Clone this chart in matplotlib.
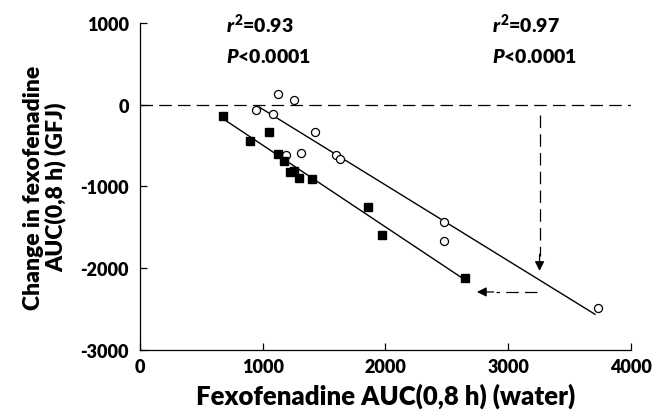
import matplotlib
matplotlib.use("Agg")
import matplotlib.pyplot as plt
import numpy as np

plt.rcParams['font.family'] = ['Lato', 'DejaVu Sans']
plt.rcParams['font.weight'] = 800
plt.rcParams['axes.unicode_minus'] = False
plt.rcParams['mathtext.fontset'] = 'custom'
plt.rcParams['mathtext.rm'] = 'Lato:weight=800'
plt.rcParams['mathtext.it'] = 'Lato:italic:weight=800'
plt.rcParams['mathtext.bf'] = 'Lato:weight=800'

# open circles
circ_x = [945, 1084, 1127, 1252, 1425, 1190, 1309, 1596, 1626, 2474, 2474, 3734]
circ_y = [-65, -110, 131, 58, -331, -610, -589, -613, -659, -1432, -1672, -2483]

# filled squares
sq_x = [677, 897, 1051, 1122, 1173, 1222, 1255, 1295, 1401, 1856, 1970, 2645]
sq_y = [-139, -446, -336, -605, -691, -826, -814, -896, -912, -1256, -1595, -2115]

# regression lines (slope, intercept, x range)
sq_fit = (-1.0, 505, 677, 2631)
circ_fit = (-0.9265, 871, 957, 3707)

fig = plt.figure(figsize=(6.56, 4.14), dpi=100)
ax = fig.add_axes([0.2134, 0.1522, 0.7485, 0.7899])

ax.axhline(0, color='black', lw=0.9, ls=(0, (10, 5)))

for m, b, x0, x1 in (sq_fit, circ_fit):
    xs = np.array([x0, x1])
    ax.plot(xs, m * xs + b, color='black', lw=1.0)

ax.plot(circ_x, circ_y, 'o', ms=5.8, mfc='white', mec='black', mew=0.9)
ax.plot(sq_x, sq_y, 's', ms=5.2, mfc='black', mec='black')

# dashed arrows
ax.plot([3255, 3255], [-123, -1850], color='black', lw=0.9, ls=(0, (10, 5)))
ax.annotate('', xy=(3255, -2033), xytext=(3255, -1830),
            arrowprops=dict(arrowstyle='-|>', color='black', lw=0.9,
                            mutation_scale=14, shrinkA=0, shrinkB=0))
ax.plot([3233, 2900], [-2290, -2290], color='black', lw=0.9, ls=(0, (10, 5)))
ax.annotate('', xy=(2745, -2290), xytext=(2880, -2290),
            arrowprops=dict(arrowstyle='-|>', color='black', lw=0.9,
                            mutation_scale=14, shrinkA=0, shrinkB=0))

ax.text(700, 896, r'$r^{2}$=0.93', fontsize=14, va='baseline', ha='left')
ax.text(700, 528, r'$P$<0.0001', fontsize=14, va='baseline', ha='left')
ax.text(2870, 896, r'$r^{2}$=0.97', fontsize=14, va='baseline', ha='left')
ax.text(2870, 528, r'$P$<0.0001', fontsize=14, va='baseline', ha='left')

ax.set_xlim(0, 4000)
ax.set_ylim(-3000, 1000)
ax.set_xticks([0, 1000, 2000, 3000, 4000])
ax.set_yticks([-3000, -2000, -1000, 0, 1000])
ax.tick_params(direction='in', length=5, width=0.9, labelsize=13)
ax.tick_params(axis='y', pad=8)
ax.tick_params(axis='x', pad=6)
for lab in ax.get_xticklabels() + ax.get_yticklabels():
    lab.set_fontweight(800)
ax.spines['top'].set_visible(False)
ax.spines['right'].set_visible(False)
for s in ('left', 'bottom'):
    ax.spines[s].set_linewidth(0.9)

ax.set_xlabel('Fexofenadine AUC(0,8 h) (water)', fontsize=18.5, fontweight=800, labelpad=5)
ax.set_ylabel('Change in fexofenadine\nAUC(0,8 h) (GFJ)', fontsize=16.5, fontweight=800,
              labelpad=10, linespacing=1.0)

fig.savefig('out.png', dpi=100)
